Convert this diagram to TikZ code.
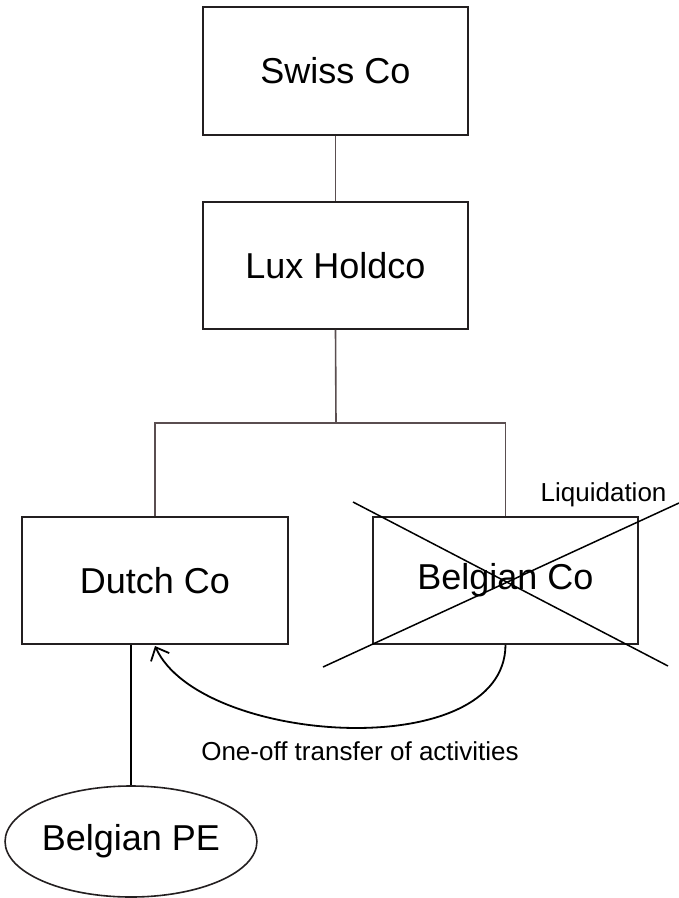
\documentclass[tikz,border=0pt]{standalone}
\usepackage{fontspec}
\setmainfont{Liberation Sans}
\usetikzlibrary{arrows.meta,shapes.geometric}
\definecolor{boxline}{HTML}{231F20}
\definecolor{linkline}{HTML}{5A4E50}
\begin{document}
\begin{tikzpicture}[x=1pt,y=-1pt,
  entity/.style={draw=boxline,line width=1.6pt,fill=white,inner sep=0pt,
    font=\fontsize{36}{40}\selectfont},
  link/.style={draw=linkline,line width=1.6pt},
  cross/.style={draw=black,line width=1.5pt},
  small/.style={font=\fontsize{26}{30}\selectfont}]
\useasboundingbox (0,0) rectangle (679,898);
% company boxes
\node[entity,minimum width=265pt,minimum height=128pt] (swiss) at (335.5,71) {Swiss Co};
\node[entity,minimum width=265pt,minimum height=127pt] (lux) at (335.5,265.5) {Lux Holdco};
\node[entity,minimum width=266pt,minimum height=127pt] (dutch) at (155,580.5) {Dutch Co};
\node[entity,minimum width=265pt,minimum height=127pt] (belg) at (505.5,580.5) {Belgian Co};
\node[entity,ellipse,minimum width=248pt,minimum height=111pt] (pe) at (131,841.5) {Belgian PE};
% ownership lines
\coordinate (split) at (336,423);
\draw[link] (swiss.south) -- (lux.north);
\draw[link] (lux.south) -- (split);
\draw[link] (dutch.north) |- (split) -| (belg.north);
\draw[link,draw=black] (dutch.south -| pe.north) -- (pe.north);
% liquidation cross
\coordinate (x1) at (353,502);
\coordinate (x2) at (668,666);
\coordinate (x3) at (323,667);
\coordinate (x4) at (679,503);
\draw[cross] (x1) -- (x2);
\draw[cross] (x3) -- (x4);
\node[small,anchor=south east] (liq) at (670,510) {Liquidation};
% transfer of activities
\coordinate (arrtip) at (155,646);
\draw[black,line width=1.8pt,-{Straight Barb[length=11pt,width=20pt,line width=1.8pt]}]
  (belg.south) .. controls (505,765) and (200,745) .. (arrtip);
\node[small] (transfer) at (360,751) {One-off transfer of activities};
\end{tikzpicture}
\end{document}
